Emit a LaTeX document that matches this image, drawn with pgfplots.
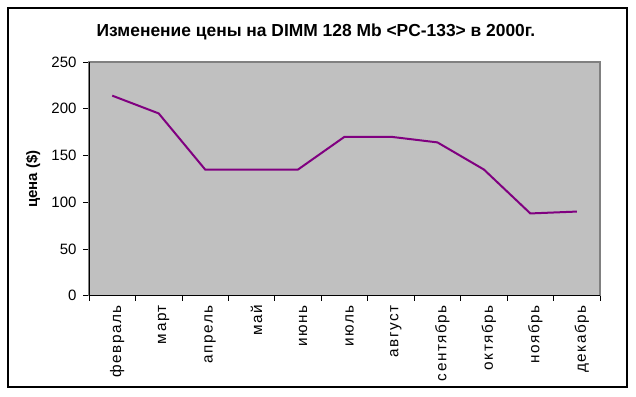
\documentclass[border=0pt]{standalone}
\usepackage{pgfplots}
\pgfplotsset{compat=1.18}
\usepackage{fontspec}
\setmainfont{Liberation Sans}
\newfontfamily\lsfont[LetterSpace=10]{Liberation Sans}
\definecolor{plotbg}{RGB}{192,192,192}
\definecolor{frameg}{RGB}{128,128,128}
\definecolor{linep}{RGB}{128,0,128}
\begin{document}
\begin{tikzpicture}[x=1bp,y=1bp]
\path[use as bounding box] (0,0) rectangle (636,396);
\draw[line width=1.1bp] (8,9) rectangle (627,388);
\node[font=\fontsize{17.4bp}{20bp}\selectfont\bfseries] at (316,364) {Изменение цены на DIMM 128 Mb <PC-133> в 2000г.};
\node[font=\fontsize{15bp}{18bp}\selectfont\bfseries, rotate=90] at (33,217) {цена (\$)};
\begin{axis}[at={(89bp,100.3bp)}, anchor=south west, scale only axis,
  width=511bp, height=233.7bp,
  xmin=-0.5, xmax=10.5, ymin=0, ymax=250,
  ytick={0,50,...,250},
  xtick={0,...,10},
  xticklabels={февраль,март,апрель,май,июнь,июль,август,сентябрь,октябрь,ноябрь,декабрь},
  minor xtick={-0.5,0.5,...,10.5},
  major x tick style={draw=none},
  xtick pos=bottom, ytick pos=left,
  tick align=outside,
  major tick length=6bp, minor tick length=5bp,
  tick style={black, line width=0.8bp},
  every tick label/.style={font=\fontsize{15bp}{18bp}\selectfont},
  x tick label style={font=\fontsize{15.3bp}{18bp}\lsfont, rotate=90, anchor=east, yshift=-5bp},
  y tick label style={xshift=-3bp},
  /pgf/number format/assume math mode=true,
  axis background/.style={fill=plotbg},
  axis line style={draw=frameg, line width=1.2bp},
  clip=false,
]
\addplot[linep, line width=2bp] coordinates {
 (0,214) (1,195) (2,135) (3,135) (4,135) (5,170) (6,170) (7,164) (8,135) (9,88) (10,90)
};
\draw[black, line width=1bp] (rel axis cs:0,1) -- (rel axis cs:0,0) -- (rel axis cs:1,0);
\end{axis}
\end{tikzpicture}
\end{document}
